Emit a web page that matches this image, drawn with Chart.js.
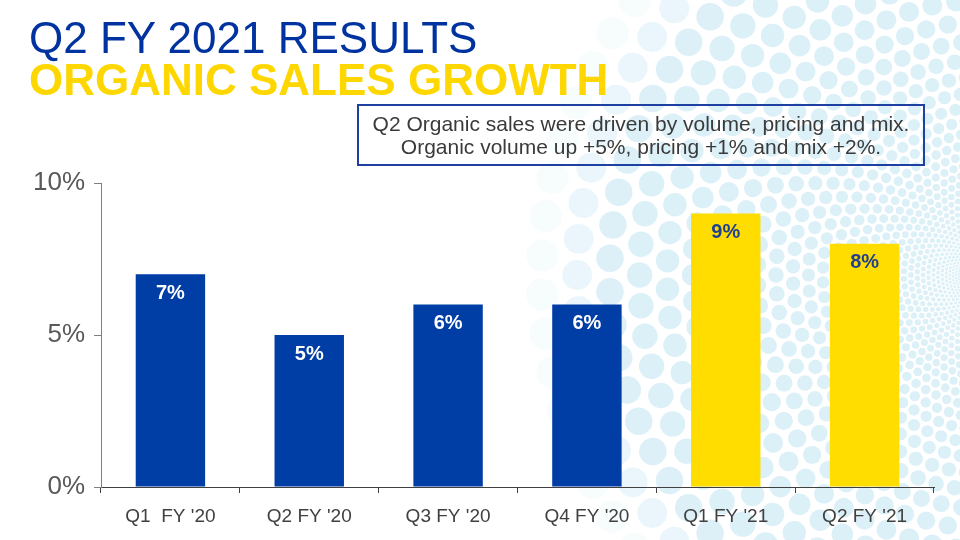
<!DOCTYPE html>
<html>
<head>
<meta charset="utf-8">
<script src="https://cdn.jsdelivr.net/npm/chart.js@4"></script>
<style>
  html, body { margin: 0; padding: 0; background: #ffffff; }
  #wrap { position: relative; width: 960px; height: 540px; overflow: hidden; font-family: "Liberation Sans", Arial, sans-serif; }
  #c { position: absolute; left: 0; top: 0; }
  .t1 { position: absolute; left: 29px; top: 16px; font-size: 44px; line-height: 44px; color: #0033A0; white-space: nowrap; }
  .t2 { position: absolute; left: 29px; top: 58px; font-size: 44px; line-height: 44px; font-weight: bold; color: #FFD700; white-space: nowrap; }
  .box { position: absolute; left: 357px; top: 104px; width: 564px; height: 58px; border: 2px solid #1E40A0; color: #3A3A3A; font-size: 21px; line-height: 23px; text-align: center; box-sizing: content-box; }
  .box div { white-space: nowrap; }
</style>
</head>
<body>
<div id="wrap">
  <canvas id="c" width="960" height="540"></canvas>
  <div class="t1">Q2 FY 2021 RESULTS</div>
  <div class="t2">ORGANIC SALES GROWTH</div>
  <div class="box"><div style="margin-top:6px">Q2 Organic sales were driven by volume, pricing and mix.</div><div>Organic volume up +5%, pricing +1% and mix +2%.</div></div>
</div>
<script>
// ---- data ----
const categories = ["Q1  FY '20", "Q2 FY '20", "Q3 FY '20", "Q4 FY '20", "Q1 FY '21", "Q2 FY '21"];
const growthValues = [7, 5, 6, 6, 9, 8];
const barColors = ["#003DA5", "#003DA5", "#003DA5", "#003DA5", "#FFDD00", "#FFDD00"];
const labelColors = ["#FFFFFF", "#FFFFFF", "#FFFFFF", "#FFFFFF", "#1F3F8F", "#1F3F8F"];
const yTicks = [0, 5, 10];

// decorative halftone background
const dotsBg = {
  id: 'dotsBg',
  beforeDraw(chart) {
    const ctx = chart.ctx;
    ctx.save();
    const vx = 992, vy = 275;
    const N = 72;
    let r = 22, k = 0;
    while (r < 460) {
      const off = (k % 2) * Math.PI / N;
      const dr = r * 0.036;
      let alpha = 1;
      if (r > 380) alpha = Math.max(0, 1 - (r - 380) / 90);
      ctx.fillStyle = 'rgba(220,240,248,' + alpha.toFixed(3) + ')';
      for (let i = 0; i < N; i++) {
        const a = off + i * 2 * Math.PI / N;
        const x = vx + r * Math.cos(a), y = vy + r * Math.sin(a);
        if (x < 520 || x > 980 || y < -20 || y > 560) continue;
        ctx.beginPath();
        ctx.arc(x, y, dr, 0, Math.PI * 2);
        ctx.fill();
      }
      r *= 1.085; k++;
    }
    ctx.restore();
  }
};

const valueLabels = {
  id: 'valueLabels',
  afterDatasetsDraw(chart) {
    const ctx = chart.ctx;
    const meta = chart.getDatasetMeta(0);
    ctx.save();
    ctx.font = 'bold 20px "Liberation Sans", Arial, sans-serif';
    ctx.textAlign = 'center';
    ctx.textBaseline = 'middle';
    meta.data.forEach((bar, i) => {
      ctx.fillStyle = labelColors[i];
      ctx.fillText(growthValues[i] + '%', bar.x, bar.y + 19);
    });
    ctx.restore();
  }
};

new Chart(document.getElementById('c'), {
  type: 'bar',
  data: {
    labels: categories,
    datasets: [{
      data: growthValues,
      backgroundColor: barColors,
      borderWidth: 0,
      barPercentage: 0.5,
      categoryPercentage: 1.0
    }]
  },
  options: {
    responsive: false,
    animation: false,
    devicePixelRatio: 1,
    layout: { padding: { top: 183, left: 0, right: 26, bottom: 0 } },
    plugins: { legend: { display: false }, tooltip: { enabled: false } },
    scales: {
      x: {
        offset: true,
        grid: { display: true, drawOnChartArea: false, offset: true, tickLength: 6, color: '#404040', lineWidth: 1 },
        border: { display: true, color: '#404040', width: 1 },
        ticks: { color: '#404040', font: { family: '"Liberation Sans", Arial, sans-serif', size: 19 }, padding: 12, maxRotation: 0, autoSkip: false },
        afterFit(scale) { scale.height = 53; }
      },
      y: {
        min: 0, max: 10,
        afterBuildTicks(scale) { scale.ticks = yTicks.map(v => ({ value: v })); },
        grid: { display: true, drawOnChartArea: false, tickLength: 7, color: '#7F7F7F', lineWidth: 1 },
        border: { display: true, color: '#7F7F7F', width: 1 },
        ticks: { color: '#595959', font: { family: '"Liberation Sans", Arial, sans-serif', size: 26 }, padding: 9, callback: v => v + '%' },
        afterFit(scale) { scale.width = 101; }
      }
    }
  },
  plugins: [dotsBg, valueLabels]
});
</script>
</body>
</html>
